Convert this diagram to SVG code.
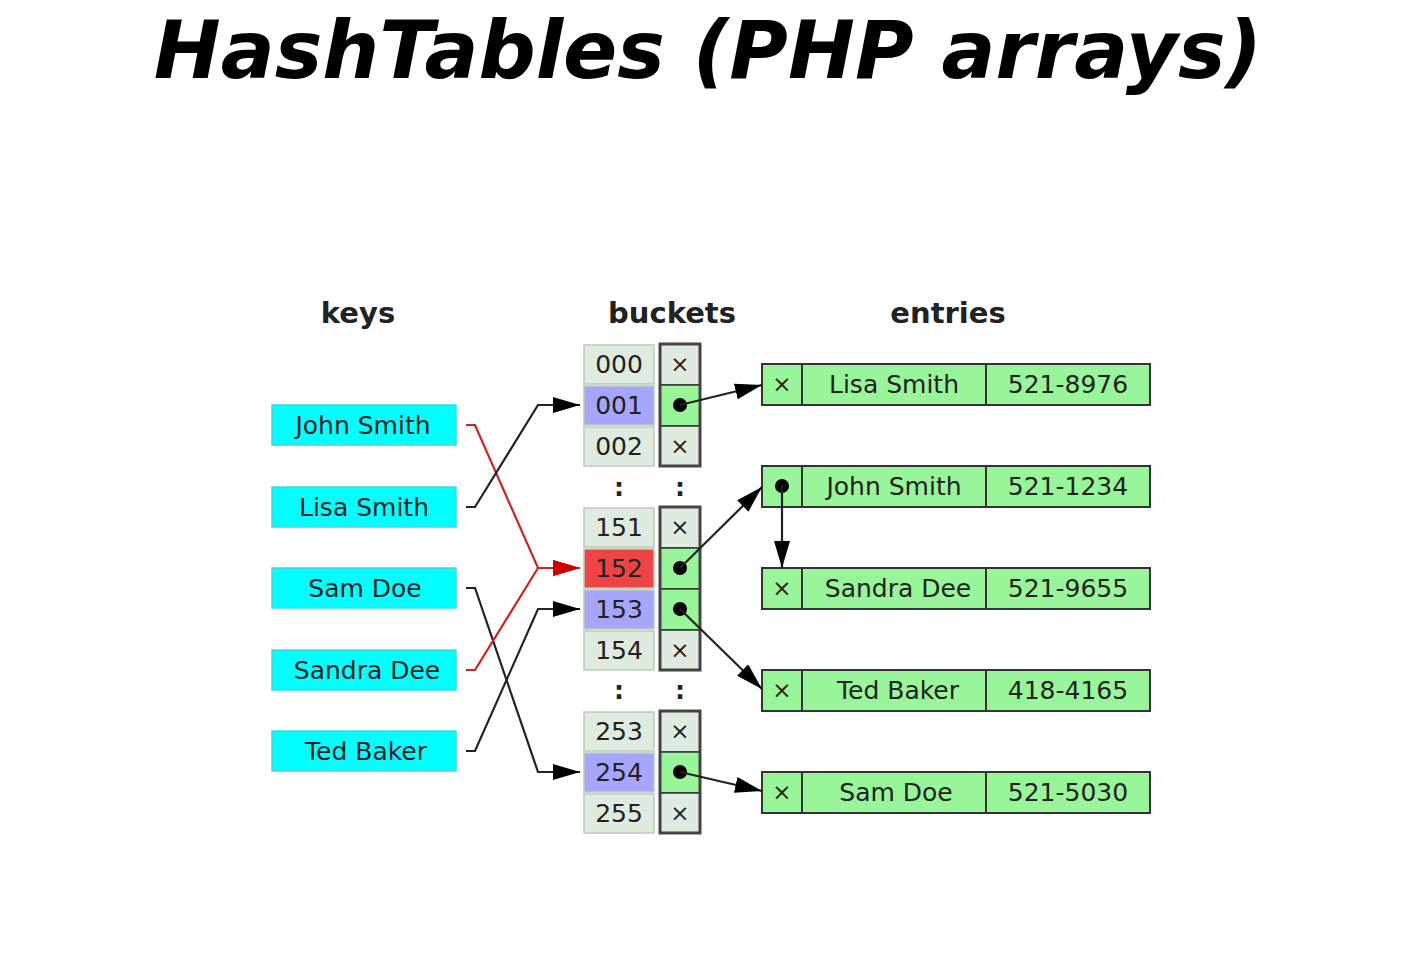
<svg xmlns="http://www.w3.org/2000/svg" width="1420" height="961" viewBox="0 0 1420 961">
<defs>
<marker id="ab" markerUnits="userSpaceOnUse" markerWidth="30" markerHeight="18" refX="27" refY="8" orient="auto"><path d="M0,0 L27,8 L0,16 z" fill="#000"/></marker>
<marker id="ar" markerUnits="userSpaceOnUse" markerWidth="30" markerHeight="18" refX="27" refY="8" orient="auto"><path d="M0,0 L27,8 L0,16 z" fill="#cc0000"/></marker>
<style>
.t{font-family:"DejaVu Sans",sans-serif;fill:#222;text-anchor:middle;dominant-baseline:central}
.key rect{fill:#00ffff;stroke:#40d8d8;stroke-width:1.5}
.key text{font-size:25px}
.idx{fill:#dfebdf;stroke:#bccbbc;stroke-width:1.5}
.hl{fill:#a6a6ff}
.red{fill:#ee4444}
.pe{fill:#dfebdf;stroke:#333;stroke-width:1.5}
.pg{fill:#99f599;stroke:#333;stroke-width:1.5}
.grp{fill:none;stroke:#444;stroke-width:3}
.ent rect{fill:#99f599;stroke:#333;stroke-width:2}
.ent line{stroke:#333;stroke-width:2}
.num{font-size:25px}
.x{font-size:23px}
.hd{font-family:"DejaVu Sans",sans-serif;font-weight:bold;font-size:29px;fill:#222;text-anchor:middle}
.cb{fill:none;stroke:#222;stroke-width:2.2}
.cr{fill:none;stroke:#cc2222;stroke-width:2.2}
</style>
</defs>
<rect width="1420" height="961" fill="#fff"/>
<text x="708" y="78" font-family="DejaVu Sans,sans-serif" font-weight="bold" font-style="italic" font-size="80" text-anchor="middle" fill="#000">HashTables (PHP arrays)</text>
<text class="hd" x="358" y="323">keys</text>
<text class="hd" x="672" y="323">buckets</text>
<text class="hd" x="948" y="323">entries</text>

<g id="key-john" class="key"><rect x="272" y="405" width="184" height="40"/><text class="t" x="363" y="425">John Smith</text></g>
<g id="key-lisa" class="key"><rect x="272" y="487" width="184" height="40"/><text class="t" x="364" y="507">Lisa Smith</text></g>
<g id="key-sam" class="key"><rect x="272" y="568" width="184" height="40"/><text class="t" x="365" y="588">Sam Doe</text></g>
<g id="key-sandra" class="key"><rect x="272" y="650" width="184" height="40"/><text class="t" x="367" y="670">Sandra Dee</text></g>
<g id="key-ted" class="key"><rect x="272" y="731" width="184" height="40"/><text class="t" x="366" y="751">Ted Baker</text></g>

<g id="buckets">
<g id="b000"><rect class="idx" x="584" y="345" width="70" height="39"/><text class="t num" x="619" y="364">000</text><rect class="pe" x="660" y="344" width="40" height="41"/><text class="t x" x="680" y="364">×</text></g>
<g id="b001"><rect class="idx hl" x="584" y="386" width="70" height="39"/><text class="t num" x="619" y="405">001</text><rect class="pg" x="660" y="385" width="40" height="41"/><circle cx="680" cy="405" r="7" fill="#000"/></g>
<g id="b002"><rect class="idx" x="584" y="427" width="70" height="39"/><text class="t num" x="619" y="446">002</text><rect class="pe" x="660" y="426" width="40" height="40"/><text class="t x" x="680" y="446">×</text></g>
<rect class="grp" x="660" y="344" width="40" height="122"/>
<text class="t num" x="619" y="487" font-weight="bold">:</text><text class="t num" x="680" y="487" font-weight="bold">:</text>
<g id="b151"><rect class="idx" x="584" y="508" width="70" height="39"/><text class="t num" x="619" y="527">151</text><rect class="pe" x="660" y="507" width="40" height="41"/><text class="t x" x="680" y="527">×</text></g>
<g id="b152"><rect class="idx red" x="584" y="549" width="70" height="39"/><text class="t num" x="619" y="568">152</text><rect class="pg" x="660" y="548" width="40" height="41"/><circle cx="680" cy="568" r="7" fill="#000"/></g>
<g id="b153"><rect class="idx hl" x="584" y="590" width="70" height="39"/><text class="t num" x="619" y="609">153</text><rect class="pg" x="660" y="589" width="40" height="41"/><circle cx="680" cy="609" r="7" fill="#000"/></g>
<g id="b154"><rect class="idx" x="584" y="631" width="70" height="39"/><text class="t num" x="619" y="650">154</text><rect class="pe" x="660" y="630" width="40" height="40"/><text class="t x" x="680" y="650">×</text></g>
<rect class="grp" x="660" y="507" width="40" height="163"/>
<text class="t num" x="619" y="690" font-weight="bold">:</text><text class="t num" x="680" y="690" font-weight="bold">:</text>
<g id="b253"><rect class="idx" x="584" y="712" width="70" height="39"/><text class="t num" x="619" y="731">253</text><rect class="pe" x="660" y="711" width="40" height="41"/><text class="t x" x="680" y="731">×</text></g>
<g id="b254"><rect class="idx hl" x="584" y="753" width="70" height="39"/><text class="t num" x="619" y="772">254</text><rect class="pg" x="660" y="752" width="40" height="41"/><circle cx="680" cy="772" r="7" fill="#000"/></g>
<g id="b255"><rect class="idx" x="584" y="794" width="70" height="39"/><text class="t num" x="619" y="813">255</text><rect class="pe" x="660" y="793" width="40" height="40"/><text class="t x" x="680" y="813">×</text></g>
<rect class="grp" x="660" y="711" width="40" height="122"/>
</g>

<g id="entry-lisa" class="ent"><rect x="762" y="364" width="388" height="41"/><line x1="802" y1="364" x2="802" y2="405"/><line x1="986" y1="364" x2="986" y2="405"/><text class="t x" x="782" y="384">×</text><text class="t num" x="894" y="384">Lisa Smith</text><text class="t num" x="1068" y="384">521-8976</text></g>
<g id="entry-john" class="ent"><rect x="762" y="466" width="388" height="41"/><line x1="802" y1="466" x2="802" y2="507"/><line x1="986" y1="466" x2="986" y2="507"/><circle cx="782" cy="486" r="7" fill="#000"/><text class="t num" x="894" y="486">John Smith</text><text class="t num" x="1068" y="486">521-1234</text></g>
<g id="entry-sandra" class="ent"><rect x="762" y="568" width="388" height="41"/><line x1="802" y1="568" x2="802" y2="609"/><line x1="986" y1="568" x2="986" y2="609"/><text class="t x" x="782" y="588">×</text><text class="t num" x="898" y="588">Sandra Dee</text><text class="t num" x="1068" y="588">521-9655</text></g>
<g id="entry-ted" class="ent"><rect x="762" y="670" width="388" height="41"/><line x1="802" y1="670" x2="802" y2="711"/><line x1="986" y1="670" x2="986" y2="711"/><text class="t x" x="782" y="690">×</text><text class="t num" x="898" y="690">Ted Baker</text><text class="t num" x="1068" y="690">418-4165</text></g>
<g id="entry-sam" class="ent"><rect x="762" y="772" width="388" height="41"/><line x1="802" y1="772" x2="802" y2="813"/><line x1="986" y1="772" x2="986" y2="813"/><text class="t x" x="782" y="792">×</text><text class="t num" x="896" y="792">Sam Doe</text><text class="t num" x="1068" y="792">521-5030</text></g>

<g id="connectors">
<polyline class="cr" points="466,425 475,425 538,568 580,568" marker-end="url(#ar)"/>
<polyline class="cb" points="466,507 475,507 538,405 580,405" marker-end="url(#ab)"/>
<polyline class="cb" points="466,588 475,588 538,772 580,772" marker-end="url(#ab)"/>
<polyline class="cr" points="466,670 475,670 538,568 580,568" marker-end="url(#ar)"/>
<polyline class="cb" points="466,751 475,751 538,609 580,609" marker-end="url(#ab)"/>
<line class="cb" x1="680" y1="405" x2="762" y2="385" marker-end="url(#ab)"/>
<line class="cb" x1="680" y1="568" x2="762" y2="487" marker-end="url(#ab)"/>
<line class="cb" x1="680" y1="609" x2="762" y2="689" marker-end="url(#ab)"/>
<line class="cb" x1="680" y1="772" x2="762" y2="791" marker-end="url(#ab)"/>
<line class="cb" x1="782" y1="486" x2="782" y2="568" marker-end="url(#ab)"/>
</g>
</svg>
